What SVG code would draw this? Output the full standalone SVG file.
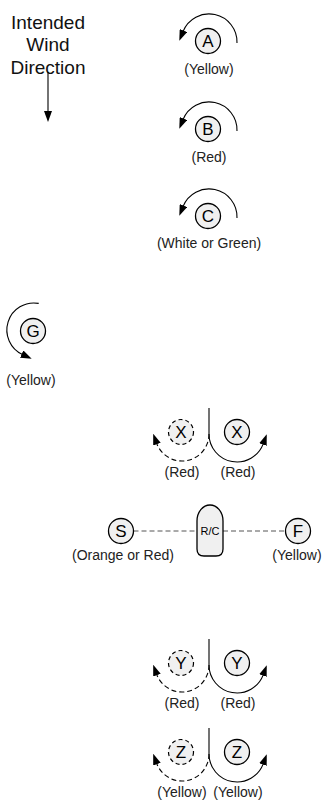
<svg xmlns="http://www.w3.org/2000/svg" width="322" height="800" viewBox="0 0 322 800">
<style>
text{font-family:"Liberation Sans",Arial,sans-serif;text-anchor:middle}
.t{font-size:19px;fill:#111}
.lbl{font-size:14px;fill:#222}
.let{font-size:17px;fill:#000}
.nd{fill:#f0f0f0;stroke:#000;stroke-width:1.3}
.nd-d{fill:#f0f0f0;stroke:#000;stroke-width:1.2;stroke-dasharray:4 3}
.arc{fill:none;stroke:#000;stroke-width:1.1}
.arc-d{fill:none;stroke:#000;stroke-width:1.1;stroke-dasharray:5 3}
.vl{stroke:#444;stroke-width:1.5}
.dl{stroke:#555;stroke-width:1;stroke-dasharray:5 3}
</style>
<defs>
<marker id="ah" viewBox="0 0 11 8" refX="1" refY="4" markerWidth="11" markerHeight="8" markerUnits="userSpaceOnUse" orient="auto">
<path d="M0,0 L11,4 L0,8 Z" fill="#000"/>
</marker>
</defs>

<g id="wind-label">
<text class="t" x="48" y="28.5">Intended</text>
<text class="t" x="48" y="51">Wind</text>
<text class="t" x="48" y="73.5">Direction</text>
</g>

<g id="connectors">
<line x1="48" y1="72" x2="48" y2="112" stroke="#000" stroke-width="1.1" marker-end="url(#ah)"/>
<path class="arc" d="M237 43 A28 28 0 0 0 183.04 31.51" marker-end="url(#ah)"/>
<path class="arc" d="M237 131 A28 28 0 0 0 183.04 119.51" marker-end="url(#ah)"/>
<path class="arc" d="M237 218 A28 28 0 0 0 183.04 206.51" marker-end="url(#ah)"/>
<path class="arc" d="M38.7 303.4 A27 27 0 0 0 22.6 354.5" marker-end="url(#ah)"/>
<line class="vl" x1="209" y1="408" x2="209" y2="434"/>
<path class="arc-d" d="M209 434 A27 27 0 0 1 156.6 443.2" marker-end="url(#ah)"/>
<path class="arc" d="M209 434 A28 28 0 0 0 263.3 443.6" marker-end="url(#ah)"/>
<line class="dl" x1="133.5" y1="531" x2="197" y2="531"/>
<line class="dl" x1="223" y1="531" x2="285.5" y2="531"/>
<line class="vl" x1="209" y1="639" x2="209" y2="665"/>
<path class="arc-d" d="M209 665 A27 27 0 0 1 156.6 674.2" marker-end="url(#ah)"/>
<path class="arc" d="M209 665 A28 28 0 0 0 263.3 674.6" marker-end="url(#ah)"/>
<line class="vl" x1="209" y1="728" x2="209" y2="754"/>
<path class="arc-d" d="M209 754 A27 27 0 0 1 156.6 763.2" marker-end="url(#ah)"/>
<path class="arc" d="M209 754 A28 28 0 0 0 263.3 763.6" marker-end="url(#ah)"/>
</g>

<g id="node-A">
<circle class="nd" cx="208" cy="41" r="12.5"/>
<text class="let" x="208" y="47">A</text>
<text class="lbl" x="209" y="74">(Yellow)</text>
</g>
<g id="node-B">
<circle class="nd" cx="208" cy="129" r="12.5"/>
<text class="let" x="208" y="135">B</text>
<text class="lbl" x="209" y="162">(Red)</text>
</g>
<g id="node-C">
<circle class="nd" cx="208" cy="216" r="12.5"/>
<text class="let" x="208" y="222">C</text>
<text class="lbl" x="209" y="248">(White or Green)</text>
</g>
<g id="node-G">
<circle class="nd" cx="33" cy="331" r="12.5"/>
<text class="let" x="33" y="337">G</text>
<text class="lbl" x="31" y="385">(Yellow)</text>
</g>

<g id="node-X1">
<circle class="nd-d" cx="181" cy="432" r="12.5"/>
<text class="let" x="181" y="438">X</text>
<text class="lbl" x="182" y="477">(Red)</text>
</g>
<g id="node-X2">
<circle class="nd" cx="237" cy="432" r="12.5"/>
<text class="let" x="237" y="438">X</text>
<text class="lbl" x="238" y="477">(Red)</text>
</g>

<g id="node-S">
<circle class="nd" cx="121" cy="531" r="12.5"/>
<text class="let" x="121" y="537">S</text>
<text class="lbl" x="123" y="560">(Orange or Red)</text>
</g>
<g id="node-RC">
<path class="nd" d="M197 521 A13 16 0 0 1 223 521 L223 549 Q223 556 216 556 L204 556 Q197 556 197 549 Z"/>
<text x="210" y="535" style="font-size:11px;fill:#000">R/C</text>
</g>
<g id="node-F">
<circle class="nd" cx="298" cy="531" r="12.5"/>
<text class="let" x="298" y="537">F</text>
<text class="lbl" x="297" y="560">(Yellow)</text>
</g>

<g id="node-Y1">
<circle class="nd-d" cx="181" cy="663" r="12.5"/>
<text class="let" x="181" y="669">Y</text>
<text class="lbl" x="182" y="708">(Red)</text>
</g>
<g id="node-Y2">
<circle class="nd" cx="237" cy="663" r="12.5"/>
<text class="let" x="237" y="669">Y</text>
<text class="lbl" x="238" y="708">(Red)</text>
</g>

<g id="node-Z1">
<circle class="nd-d" cx="181" cy="752" r="12.5"/>
<text class="let" x="181" y="758">Z</text>
<text class="lbl" x="182" y="797">(Yellow)</text>
</g>
<g id="node-Z2">
<circle class="nd" cx="237" cy="752" r="12.5"/>
<text class="let" x="237" y="758">Z</text>
<text class="lbl" x="238" y="797">(Yellow)</text>
</g>
</svg>
